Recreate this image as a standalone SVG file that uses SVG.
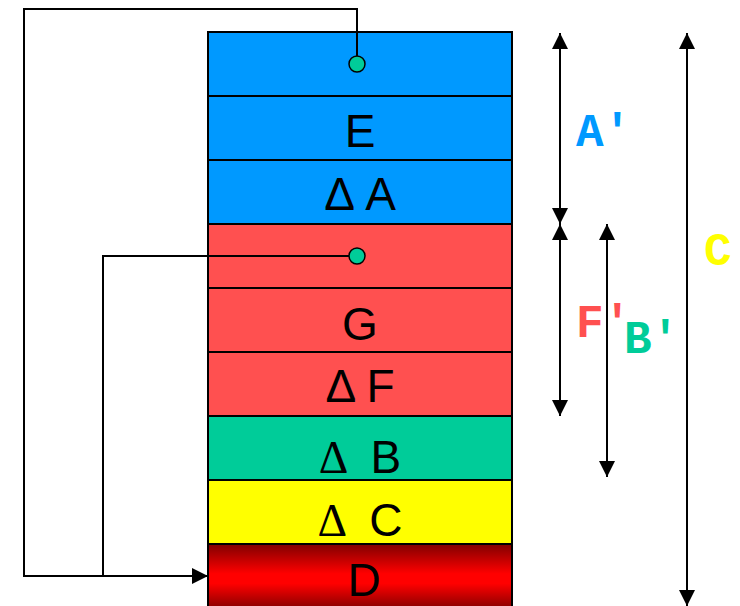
<svg xmlns="http://www.w3.org/2000/svg" width="740" height="606" viewBox="0 0 740 606">
<style>
.cell{stroke:#000;stroke-width:2}
.t{font-family:"Liberation Sans",Arial,sans-serif;font-size:46px;fill:#000;text-anchor:middle}
.sd{font-family:"Liberation Serif","Times New Roman",serif}
.lab{font-family:"Liberation Mono","Courier New",monospace;font-weight:bold;font-size:46px}
.ln{fill:none;stroke:#000;stroke-width:2}
.dot{fill:#00CC99;stroke:#000;stroke-width:1.5}
</style>
<defs>
<linearGradient id="gd" x1="0" y1="0" x2="0" y2="1">
<stop offset="0" stop-color="#800000"/>
<stop offset="0.45" stop-color="#FF0000"/>
<stop offset="0.6" stop-color="#FF0000"/>
<stop offset="1" stop-color="#800000"/>
</linearGradient>
<marker id="ah" viewBox="0 0 10 10" refX="10" refY="5" markerWidth="8" markerHeight="8" markerUnits="strokeWidth" orient="auto-start-reverse">
<path d="M0,0 L10,5 L0,10 Z" fill="#000"/>
</marker>
</defs>
<g id="n1"><rect class="cell" x="208" y="32" width="304" height="64" fill="#0099FF"/></g>
<g id="nE"><rect class="cell" x="208" y="96" width="304" height="64" fill="#0099FF"/><text class="t" x="360" y="147">E</text></g>
<g id="nDA"><rect class="cell" x="208" y="160" width="304" height="64" fill="#0099FF"/><text class="t" x="360" y="210">Δ A</text></g>
<g id="n4"><rect class="cell" x="208" y="224" width="304" height="64" fill="#FF5050"/></g>
<g id="nG"><rect class="cell" x="208" y="288" width="304" height="64" fill="#FF5050"/><text class="t" x="360" y="340">G</text></g>
<g id="nDF"><rect class="cell" x="208" y="352" width="304" height="64" fill="#FF5050"/><text class="t" x="360" y="402">Δ F</text></g>
<g id="nDB"><rect class="cell" x="208" y="416" width="304" height="64" fill="#00CC99"/><text class="t" x="360" y="473"><tspan class="sd">Δ</tspan><tspan dx="22">B</tspan></text></g>
<g id="nDC"><rect class="cell" x="208" y="480" width="304" height="64" fill="#FFFF00"/><text class="t" x="360" y="536"><tspan class="sd">Δ</tspan><tspan dx="22">C</tspan></text></g>
<g id="nD"><rect class="cell" x="208" y="544" width="304" height="66" fill="url(#gd)"/><text class="t" x="364" y="596">D</text></g>
<g id="connectors">
<path class="ln" d="M357,64 V9 H24 V576 H208" marker-end="url(#ah)"/>
<path class="ln" d="M357,256 H103 V576"/>
<circle class="dot" cx="357" cy="64" r="8"/>
<circle class="dot" cx="357" cy="256" r="8"/>
<line class="ln" x1="560" y1="33" x2="560" y2="224" marker-start="url(#ah)" marker-end="url(#ah)"/>
<line class="ln" x1="560" y1="224" x2="560" y2="416" marker-start="url(#ah)" marker-end="url(#ah)"/>
<line class="ln" x1="607" y1="224" x2="607" y2="477" marker-start="url(#ah)" marker-end="url(#ah)"/>
<line class="ln" x1="687" y1="33" x2="687" y2="606" marker-start="url(#ah)" marker-end="url(#ah)"/>
</g>
<g id="labels">
<text class="lab" x="576" y="146" fill="#0099FF">A'</text>
<text class="lab" x="576" y="337" fill="#FF5050">F'</text>
<text class="lab" x="624" y="353" fill="#00CC99">B'</text>
<text class="lab" x="704" y="265" fill="#FFFF00">C</text>
</g>
</svg>
